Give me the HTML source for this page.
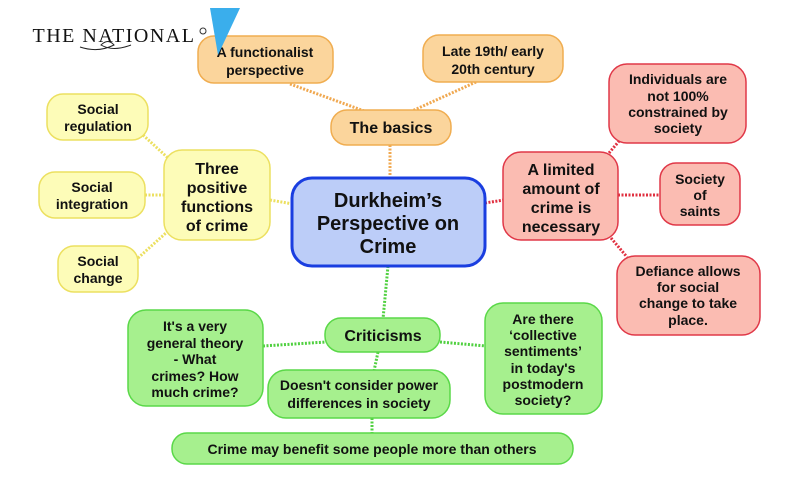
<!DOCTYPE html>
<html><head><meta charset="utf-8"><style>
html,body{margin:0;padding:0;background:#fff;width:800px;height:500px;overflow:hidden}
svg{display:block}
text{font-family:"Liberation Sans",Arial,sans-serif;font-weight:bold;fill:#111;text-anchor:middle}
</style></head><body>
<svg width="800" height="500" viewBox="0 0 800 500">
<g fill="none" stroke-width="3" stroke-dasharray="2 1.5">
<g stroke="#f0a850">
<line x1="290" y1="84" x2="367" y2="112"/><line x1="476" y1="82" x2="412" y2="111"/><line x1="390" y1="145" x2="390" y2="179"/>
</g>
<g stroke="#ece060">
<line x1="270" y1="200" x2="293" y2="204"/><line x1="143" y1="135" x2="168" y2="158"/><line x1="145" y1="195" x2="165" y2="195"/><line x1="138" y1="258" x2="167" y2="232"/>
</g>
<g stroke="#e03040">
<line x1="485" y1="203" x2="504" y2="200"/><line x1="609" y1="153" x2="620" y2="140"/><line x1="618" y1="195" x2="661" y2="195"/><line x1="611" y1="238" x2="627" y2="257"/>
</g>
<g stroke="#50d040">
<line x1="388" y1="266" x2="383" y2="319"/><line x1="263" y1="346" x2="326" y2="342"/><line x1="440" y1="342" x2="486" y2="346"/><line x1="378" y1="352" x2="374" y2="371"/><line x1="372" y1="418" x2="372" y2="434"/>
</g>
</g>
<g stroke-width="1.5">
<g fill="#fbd59c" stroke="#f0ad50">
<rect x="198" y="36" width="135" height="47" rx="16"/>
<rect x="423" y="35" width="140" height="47" rx="16"/>
<rect x="331" y="110" width="120" height="35" rx="16"/>
</g>
<g fill="#fdfcb8" stroke="#ece060">
<rect x="47" y="94" width="101" height="46" rx="16"/>
<rect x="39" y="172" width="106" height="46" rx="16"/>
<rect x="58" y="246" width="80" height="46" rx="16"/>
<rect x="164" y="150" width="106" height="90" rx="18"/>
</g>
<rect x="292" y="178" width="193" height="88" rx="20" fill="#bccdf8" stroke="#1a3ee0" stroke-width="3"/>
<g fill="#fbbcb2" stroke="#e03848">
<rect x="503" y="152" width="115" height="88" rx="18"/>
<rect x="609" y="64" width="137" height="79" rx="18"/>
<rect x="660" y="163" width="80" height="62" rx="16"/>
<rect x="617" y="256" width="143" height="79" rx="18"/>
</g>
<g fill="#a6f08e" stroke="#5ad848">
<rect x="325" y="318" width="115" height="34" rx="16"/>
<rect x="128" y="310" width="135" height="96" rx="18"/>
<rect x="485" y="303" width="117" height="111" rx="18"/>
<rect x="268" y="370" width="182" height="48" rx="18"/>
<rect x="172" y="433" width="401" height="31" rx="15"/>
</g>
</g>
<g font-size="14">
<text x="265" y="57">A functionalist</text><text x="265" y="75">perspective</text>
<text x="493" y="56">Late 19th/ early</text><text x="493" y="74">20th century</text>
<text x="391" y="133" font-size="16">The basics</text>
<text x="98" y="114">Social</text><text x="98" y="131">regulation</text>
<text x="92" y="192">Social</text><text x="92" y="209">integration</text>
<text x="98" y="266">Social</text><text x="98" y="283">change</text>
<text x="217" y="174" font-size="16">Three</text><text x="217" y="193" font-size="16">positive</text><text x="217" y="212" font-size="16">functions</text><text x="217" y="231" font-size="16">of crime</text>
<text x="388" y="207" font-size="20">Durkheim’s</text><text x="388" y="230" font-size="20">Perspective on</text><text x="388" y="253" font-size="20">Crime</text>
<text x="561" y="175" font-size="16">A limited</text><text x="561" y="194" font-size="16">amount of</text><text x="561" y="213" font-size="16">crime is</text><text x="561" y="232" font-size="16">necessary</text>
<text x="678" y="84">Individuals are</text><text x="678" y="101">not 100%</text><text x="678" y="117">constrained by</text><text x="678" y="133">society</text>
<text x="700" y="184">Society</text><text x="700" y="200">of</text><text x="700" y="216">saints</text>
<text x="688" y="276">Defiance allows</text><text x="688" y="292">for social</text><text x="688" y="308">change to take</text><text x="688" y="325">place.</text>
<text x="383" y="341" font-size="16">Criticisms</text>
<text x="195" y="331">It's a very</text><text x="195" y="348">general theory</text><text x="195" y="364">- What</text><text x="195" y="381">crimes? How</text><text x="195" y="397">much crime?</text>
<text x="543" y="324">Are there</text><text x="543" y="340">‘collective</text><text x="543" y="356">sentiments’</text><text x="543" y="373">in today's</text><text x="543" y="389">postmodern</text><text x="543" y="405">society?</text>
<text x="359" y="390">Doesn't consider power</text><text x="359" y="408">differences in society</text>
<text x="372" y="454">Crime may benefit some people more than others</text>
</g>
<text x="114" y="42" style="font-family:'Liberation Serif',serif;font-weight:normal;font-size:20px;letter-spacing:1.5px">THE NATIONAL</text>
<path d="M80 47 q18 6 34 -2 q-6 -7 -13 0 q12 7 30 0" fill="none" stroke="#222" stroke-width="1"/>
<circle cx="203" cy="31" r="3" fill="none" stroke="#333" stroke-width="1"/>
<polygon points="210,8 240,8 218,55" fill="#3aaeec"/>
</svg>
</body></html>
